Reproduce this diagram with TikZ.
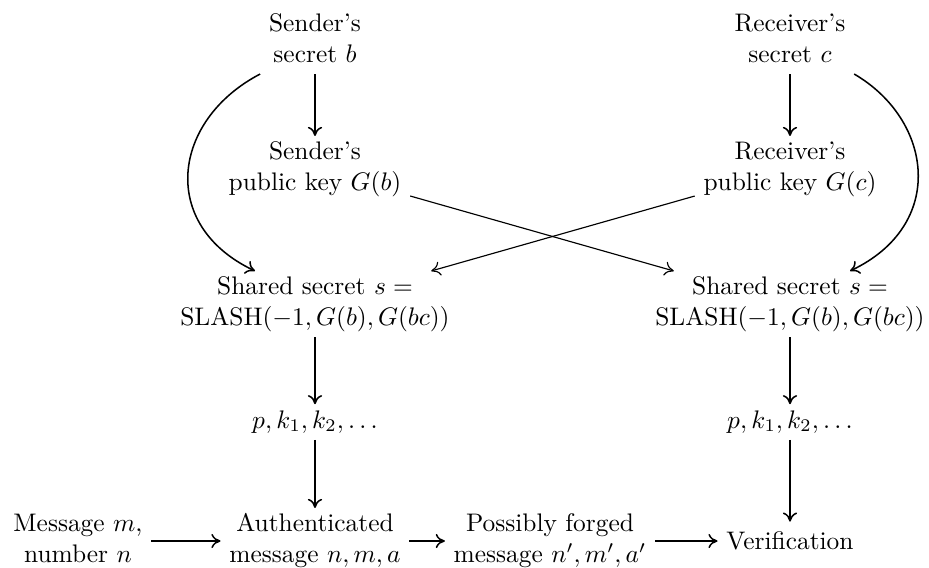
\documentclass[tikz,border=0pt]{standalone}
\usetikzlibrary{arrows.meta,calc}
\newcommand{\twoline}[2]{\begin{tabular}{@{}c@{}}#1\\#2\end{tabular}}
\tikzset{
  box/.style={inner xsep=3.5pt, inner ysep=1pt, outer sep=0pt},
  arr/.style={line width=0.6pt, -{To[length=3.6pt,width=5.6pt]}},
  thinarr/.style={line width=0.45pt, -{To[length=3.6pt,width=5.6pt]}},
}
\begin{document}
\begin{tikzpicture}[x=0.3937pt, y=-0.3937pt]
\useasboundingbox (0,0) rectangle (929,567);
% nodes
\node[box] (sb)  at (315,41)  {\twoline{Sender's}{secret $b$}};
\node[box] (rs)  at (790,41)  {\twoline{Receiver's}{secret $c$}};
\node[box] (spk) at (315,169) {\twoline{Sender's}{public key $G(b)$}};
\node[box] (rpk) at (790,169) {\twoline{Receiver's}{public key $G(c)$}};
\node[box] (ssl) at (315,304) {\twoline{Shared secret $s=$}{$\mathrm{SLASH}(-1,G(b),G(bc))$}};
\node[box] (ssr) at (790,304) {\twoline{Shared secret $s=$}{$\mathrm{SLASH}(-1,G(b),G(bc))$}};
\node[box, text height=8.4pt, text depth=3.6pt] (pl) at (315,422) {$p,k_1,k_2,\ldots$};
\node[box, text height=8.4pt, text depth=3.6pt] (pr) at (790,422) {$p,k_1,k_2,\ldots$};
\node[box] (msg)  at (78,541)  {\twoline{Message $m$,}{number $n$}};
\node[box] (auth) at (315,541) {\twoline{Authenticated}{message $n,m,a$}};
\node[box] (forg) at (550,541) {\twoline{Possibly forged}{message $n',m',a'$}};
\node[box, inner ysep=4pt] (ver) at (790,541) {Verification};
% connectors
\draw[arr] (sb) -- (spk);
\draw[arr] (rs) -- (rpk);
\draw[thinarr] (spk) -- (ssr);
\draw[thinarr] (rpk) -- (ssl);
\draw[arr] (sb.south west) .. controls (172,120) and (158,225) .. ($(ssl.north)+(-60,0)$);
\draw[arr] (rs.south east) .. controls (933,120) and (947,225) .. ($(ssr.north)+(60,0)$);
\draw[arr] (ssl) -- (pl);
\draw[arr] (ssr) -- (pr);
\draw[arr] (pl) -- (auth);
\draw[arr] (pr) -- (ver);
\draw[arr] (msg) -- (auth);
\draw[arr] (auth) -- (forg);
\draw[arr] (forg) -- (ver);
\end{tikzpicture}
\end{document}
